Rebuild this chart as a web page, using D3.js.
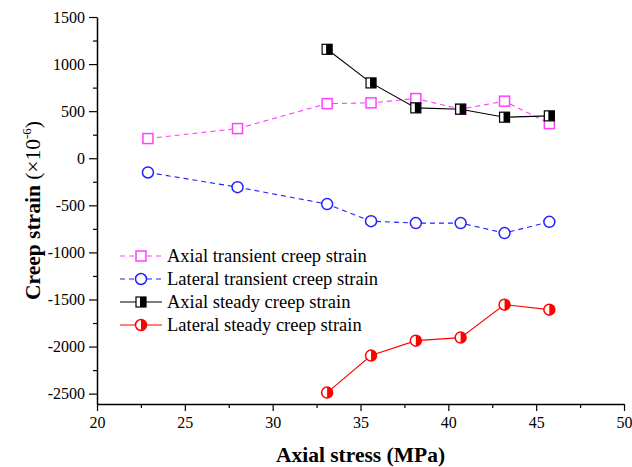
<!DOCTYPE html>
<html>
<head>
<meta charset="utf-8">
<script src="https://cdn.jsdelivr.net/npm/d3@7"></script>
<style>
  body { margin: 0; background: #fff; }
  svg, svg text { font-family: "Liberation Serif", "Times New Roman", serif; }
  .tick text { font-family: "Liberation Serif", serif; font-size: 16px; fill: #000; }
</style>
</head>
<body>
<svg id="canvas" width="632" height="467"></svg>
<script>
// data
let stressAll = [22.9, 28.0, 33.1, 35.6, 38.15, 40.7, 43.2, 45.75]
let stressSteady = [33.1, 35.6, 38.15, 40.7, 43.2, 45.75]

let axialTransient = [209, 315, 580, 588, 634, 521, 606, 368]
let lateralTransient = [-151, -307, -487, -668, -689, -689, -795, -675]
let axialSteady = [1157, 800, 535, 521, 436, 450]
let lateralSteady = [-2489, -2096, -1937, -1905, -1555, -1608]

let seriesNames = [
  'Axial transient creep strain',
  'Lateral transient creep strain',
  'Axial steady creep strain',
  'Lateral steady creep strain'
]

let xTicks = [20, 25, 30, 35, 40, 45, 50]
let yTicks = [-2500, -2000, -1500, -1000, -500, 0, 500, 1000, 1500]

let series = [
  { name: seriesNames[0], xs: stressAll, ys: axialTransient, color: '#ff40ff', dash: '5,4', marker: 'square' },
  { name: seriesNames[1], xs: stressAll, ys: lateralTransient, color: '#2020ff', dash: '5,4', marker: 'circle' },
  { name: seriesNames[2], xs: stressSteady, ys: axialSteady, color: '#000000', dash: null, marker: 'halfsquare' },
  { name: seriesNames[3], xs: stressSteady, ys: lateralSteady, color: '#ff0000', dash: null, marker: 'halfcircle' }
]

let svg = d3.select('#canvas')
let plotLeft = 97, plotRight = 624, plotTop = 17, plotBottom = 404

let x = d3.scaleLinear().domain([20, 50]).range([plotLeft, plotRight])
let y = d3.scaleLinear().domain([-2610, 1500]).range([plotBottom, plotTop])

// minor ticks
svg.append('g')
   .attr('transform', 'translate(0,' + plotBottom + ')')
   .call(d3.axisBottom(x).tickValues(d3.range(22.5, 50, 5)).tickSize(4).tickFormat(''))
   .call(g => g.select('.domain').remove())
svg.append('g')
   .attr('transform', 'translate(' + plotLeft + ',0)')
   .call(d3.axisLeft(y).tickValues(d3.range(-2250, 1500, 500)).tickSize(4).tickFormat(''))
   .call(g => g.select('.domain').remove())

svg.append('g')
   .attr('transform', 'translate(0,' + plotBottom + ')')
   .call(d3.axisBottom(x).tickValues(xTicks).tickSize(7).tickSizeOuter(0).tickPadding(6))
svg.append('g')
   .attr('transform', 'translate(' + plotLeft + ',0)')
   .call(d3.axisLeft(y).tickValues(yTicks).tickSize(8).tickSizeOuter(0).tickPadding(4)
           .tickFormat(d => String(d)))

svg.selectAll('g').attr('font-family', null).attr('font-size', null)
svg.selectAll('.tick line').attr('stroke', '#000').attr('stroke-width', 1.2)
svg.selectAll('.domain').attr('stroke', '#000').attr('stroke-width', 1.5)

// axis titles
svg.append('text')
   .attr('x', (plotLeft + plotRight) / 2)
   .attr('y', 462)
   .attr('text-anchor', 'middle')
   .attr('font-size', 21.5)
   .attr('font-weight', 'bold')
   .text('Axial stress (MPa)')

let yTitle = svg.append('text')
   .attr('transform', 'translate(40,' + ((plotTop + plotBottom) / 2) + ') rotate(-90)')
   .attr('text-anchor', 'middle')
   .attr('font-size', 21.5)
yTitle.append('tspan').attr('font-weight', 'bold').text('Creep strain ')
yTitle.append('tspan').text('(×10')
yTitle.append('tspan').attr('font-size', 13).attr('dy', -9).text('-6')
yTitle.append('tspan').attr('dy', 9).text(')')

let drawMarker = (g, type, cx, cy, color) => {
  if (type === 'square') {
    g.append('rect').attr('x', cx - 5).attr('y', cy - 5).attr('width', 10).attr('height', 10)
     .attr('fill', '#fff').attr('stroke', color).attr('stroke-width', 1.5)
  } else if (type === 'circle') {
    g.append('circle').attr('cx', cx).attr('cy', cy).attr('r', 5.5)
     .attr('fill', '#fff').attr('stroke', color).attr('stroke-width', 1.5)
  } else if (type === 'halfsquare') {
    g.append('rect').attr('x', cx - 5).attr('y', cy - 5).attr('width', 10).attr('height', 10)
     .attr('fill', '#fff').attr('stroke', color).attr('stroke-width', 1.2)
    g.append('rect').attr('x', cx - 1).attr('y', cy - 5).attr('width', 6).attr('height', 10)
     .attr('fill', color)
  } else if (type === 'halfcircle') {
    g.append('circle').attr('cx', cx).attr('cy', cy).attr('r', 5.5)
     .attr('fill', '#fff').attr('stroke', color).attr('stroke-width', 1.5)
    g.append('path')
     .attr('d', 'M' + cx + ',' + (cy - 5.5) + ' A5.5,5.5 0 0,1 ' + cx + ',' + (cy + 5.5) + ' Z')
     .attr('fill', color)
  }
}

let line = d3.line().x(d => x(d[0])).y(d => y(d[1]))

series.forEach(s => {
  let pts = s.xs.map((v, i) => [v, s.ys[i]])
  svg.append('path')
     .datum(pts)
     .attr('d', line)
     .attr('fill', 'none')
     .attr('stroke', s.color)
     .attr('stroke-width', 1.1)
     .attr('stroke-dasharray', s.dash)
  let g = svg.append('g')
  pts.forEach(p => drawMarker(g, s.marker, x(p[0]), y(p[1]), s.color))
})

// legend
let legend = svg.append('g')
series.forEach((s, i) => {
  let ly = 256 + i * 23
  legend.append('line')
        .attr('x1', 120).attr('x2', 162).attr('y1', ly).attr('y2', ly)
        .attr('stroke', s.color).attr('stroke-width', 1.1)
        .attr('stroke-dasharray', s.dash)
  drawMarker(legend, s.marker, 141, ly, s.color)
  legend.append('text')
        .attr('x', 167).attr('y', ly + 6)
        .attr('font-size', 18.5)
        .text(s.name)
})
</script>
</body>
</html>
